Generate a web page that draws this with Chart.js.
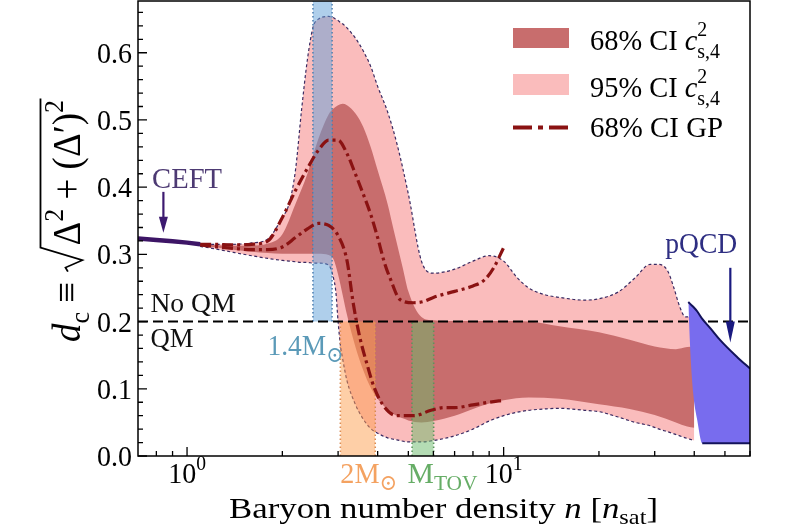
<!DOCTYPE html>
<html>
<head>
<meta charset="utf-8">
<title>d_c vs baryon number density</title>
<script src="https://cdn.jsdelivr.net/npm/chart.js@4.4.1/dist/chart.umd.min.js"></script>
<style>
  html, body { margin: 0; padding: 0; background: #fff; }
  #wrap { width: 800px; height: 530px; }
</style>
</head>
<body>
<div id="wrap"><canvas id="c" width="800" height="530"></canvas></div>
<script>
// --------------------------------------------------
//  values (n in units of n_sat)
// --------------------------------------------------

// 95% CI c2_s,4 band
const n95  = [1.1, 1.2, 1.4, 1.6, 1.8, 2.0, 2.1, 2.2, 2.3, 2.4, 2.5, 2.6, 2.8, 2.9, 2.95, 3.0, 3.05, 3.1, 3.2, 3.4,
              3.6, 3.8, 4.0, 4.3, 4.6, 5.0, 5.5, 6, 7, 8, 9, 10, 11, 12, 13.5, 15, 18, 20, 23, 26,
              29, 31, 33, 34.5, 36, 37.5, 40];
const up95 = [.316, .315, .315, .317, .323, .355, .375, .425, .515, .59, .638, .65, .654, .652, .65, .648, .645, .643, .637, .622,
              .603, .58, .55, .512, .465, .39, .29, .272, .278, .29, .298, .29, .266, .25, .24, .236, .232, .234, .244, .265,
              .285, .285, .275, .25, .222, .207, .207];
const lo95 = [.312, .309, .303, .298, .294, .291, .29, .289, .288, .288, .287, .287, .284, .265, .245, .2, .165, .145, .112, .077,
              .055, .041, .034, .027, .024, .021, .021, .023, .03, .04, .052, .06, .065, .068, .07, .071, .068, .066, .058, .05,
              .045, .04, .036, .033, .03, .027, .023];

// 68% CI c2_s,4 band
const n68  = [1.1, 1.2, 1.4, 1.6, 1.8, 2.0, 2.2, 2.4, 2.6, 2.8, 2.9, 3.0, 3.1, 3.2, 3.4, 3.6, 3.8, 4.0, 4.3, 4.5,
              4.8, 5.0, 5.5, 6, 7, 8, 9, 10, 12, 15, 20, 25, 30, 35, 38, 40];
const up68 = [.315, .314, .313, .313, .316, .33, .375, .42, .472, .508, .517, .522, .524, .522, .51, .49, .46, .425, .375, .335,
              .28, .245, .207, .202, .201, .201, .201, .201, .2, .193, .184, .173, .163, .159, .162, .163];
const lo68 = [.313, .311, .307, .304, .302, .301, .301, .301, .301, .299, .293, .27, .24, .21, .163, .128, .102, .085, .069, .062,
              .056, .053, .05, .052, .06, .07, .078, .083, .087, .085, .077, .07, .061, .05, .044, .042];

// 68% CI GP (upper / lower)
const nGPup = [1.1, 1.2, 1.4, 1.6, 1.8, 2.0, 2.2, 2.4, 2.6, 2.8, 3.0, 3.2, 3.4, 3.6, 3.8, 4.0, 4.2, 4.4, 4.7, 5.2,
               5.6, 6, 7, 8, 8.7, 9.3, 10];
const gpUp  = [.315, .315, .314, .315, .32, .355, .395, .428, .455, .47, .47, .45, .42, .39, .36, .325, .288, .262, .233, .228,
               .23, .236, .245, .253, .262, .28, .31];
const nGPlo = [1.1, 1.2, 1.4, 1.6, 1.8, 2.0, 2.2, 2.4, 2.6, 2.8, 3.0, 3.2, 3.35, 3.5, 3.7, 3.9, 4.2, 4.6, 5.2, 5.9,
               6.5, 7, 8, 9, 10];
const gpLo  = [.314, .312, .309, .307, .307, .311, .325, .338, .346, .343, .328, .291, .227, .18, .137, .102, .073, .06, .06, .068,
               .072, .072, .076, .08, .083];

// CEFT and pQCD limits
const nCEFT  = [0.7, 0.8, 0.9, 1.0, 1.1];
const dCEFT  = [.3235, .3215, .3195, .3175, .315];
const nPQ    = [38.3, 38.9, 39.7, 40.9, 42.4, 45, 48.4, 54.7, 60];
const dPQup  = [.229, .226, .222, .215, .204, .19, .172, .147, .13];
const dPQlo  = [.229, .153, .093, .053, .019, .019, .019, .019, .019];
const nPQbot = [42.4, 60];
const dPQbot = [.019, .019];

// central densities of 1.4 Msun, 2 Msun and M_TOV stars
const band14  = [2.50, 2.87];
const band2M  = [3.05, 3.93];
const bandTOV = [5.14, 6.01];
const dSplit  = 0.2;   // QM / No QM line

// axes
const X_MIN = 0.7, X_MAX = 60, Y_MIN = 0, Y_MAX = 0.677;
const xMajor = [1, 10];
const xMajorExp = ['0', '1'];
const xMinor = [0.8, 0.9, 2, 3, 4, 5, 6, 7, 8, 9, 20, 30, 40, 50, 60];
const yMajor = [0, 0.1, 0.2, 0.3, 0.4, 0.5, 0.6];
const yLabels = ['0.0', '0.1', '0.2', '0.3', '0.4', '0.5', '0.6'];

/* ----------  colours  ---------- */
const C95 = '#fabcbc', C68 = '#c86d6d', CGP = '#8a1212', CEDGE = '#3a2a62', CQCD = '#13135a';

const SERIF = '"Liberation Serif", "DejaVu Serif", "DejaVu Sans", serif';

const pts = (xs, ys) => xs.map((v, i) => ({ x: v, y: ys[i] }));
const NONE = 'rgba(0,0,0,0)';

// shaded vertical band: top edge filled down to y0, plus two dotted sides
function bandSets(b, y0, y1, fillCol, edgeCol) {
  const side = xv => ({
    data: pts([xv, xv], [y0, y1]), fill: false, borderColor: edgeCol,
    borderWidth: 1.6, borderDash: [1.5, 2.5], order: 8
  });
  return [
    { data: pts(b, [y1, y1]), fill: { value: y0 }, backgroundColor: fillCol, borderColor: NONE, borderWidth: 1, order: 8 },
    side(b[0]), side(b[1])
  ];
}

const datasets = [
  { data: pts(n95, up95), fill: 1, backgroundColor: C95, borderColor: CEDGE, borderWidth: 1.2,
    borderDash: [3, 2.5], cubicInterpolationMode: 'monotone', order: 11 },
  { data: pts(n95, lo95), fill: false, borderColor: CEDGE, borderWidth: 1.2,
    borderDash: [3, 2.5], cubicInterpolationMode: 'monotone', order: 10.5 },
  { data: pts(n68, up68), fill: 3, backgroundColor: C68, borderColor: NONE, borderWidth: 1,
    cubicInterpolationMode: 'monotone', order: 9 },
  { data: pts(n68, lo68), fill: false, borderColor: NONE, borderWidth: 1,
    cubicInterpolationMode: 'monotone', order: 9 },
  // pQCD region (upper edge filled down to lower edge)
  { data: pts(nPQ, dPQup), fill: 5, backgroundColor: '#786cee', borderColor: CQCD,
    borderWidth: 2, cubicInterpolationMode: 'monotone', order: 5 },
  { data: pts(nPQ, dPQlo), fill: false, borderColor: NONE, borderWidth: 1,
    cubicInterpolationMode: 'monotone', order: 5 },
  { data: pts(nPQbot, dPQbot), fill: false, borderColor: CQCD, borderWidth: 2, order: 4.5 },
  ...bandSets(band14, dSplit, Y_MAX, 'rgba(95,160,215,0.5)', '#4c78a6'),
  ...bandSets(band2M, Y_MIN, dSplit, 'rgba(253,160,80,0.5)', '#d58a55'),
  ...bandSets(bandTOV, Y_MIN, dSplit, 'rgba(105,185,105,0.5)', '#5a8d5a'),
  { data: pts([X_MIN, X_MAX], [dSplit, dSplit]), borderColor: '#000', borderWidth: 2,
    borderDash: [10, 5], fill: false, order: 7 },
  { data: pts(nGPup, gpUp), borderColor: CGP, borderWidth: 3.2, borderDash: [11, 4, 3, 4],
    cubicInterpolationMode: 'monotone', fill: false, order: 6 },
  { data: pts(nGPlo, gpLo), borderColor: CGP, borderWidth: 3.2, borderDash: [11, 4, 3, 4],
    cubicInterpolationMode: 'monotone', fill: false, order: 6 },
  { data: pts(nCEFT, dCEFT), borderColor: '#3d1566', borderWidth: 4.5, fill: false,
    borderCapStyle: 'butt', order: 4 }
];

/* ----------  rich text (sub / superscripts, radical)  ---------- */
function richText(ctx, segs, o) {
  const S = o.size;
  const fontOf = sg => (sg.it ? 'italic ' : '') + (S * (sg.s || 1)).toFixed(1) + 'px ' + SERIF;
  let w = 0, prev = null;
  const laid = [];
  for (const sg of segs) {
    let sw;
    if (sg.rad) sw = sg.rad * S;
    else { ctx.font = fontOf(sg); sw = ctx.measureText(sg.t).width; }
    let x = w;
    if (sg.stack && prev) { x = prev.x; w = Math.max(w, x + sw); }
    else w += sw;
    prev = { sg, x, w: sw };
    laid.push(prev);
  }
  const sx = o.fitW ? o.fitW / w : 1;
  const x0 = o.align === 'center' ? -w / 2 : o.align === 'right' ? -w : 0;
  ctx.save();
  ctx.translate(o.x, o.y);
  if (o.rot) ctx.rotate(o.rot);
  ctx.scale(sx, o.sy || 1);
  ctx.fillStyle = ctx.strokeStyle = o.color || '#000';
  ctx.textAlign = 'left';
  ctx.textBaseline = 'alphabetic';
  ctx.setLineDash([]);
  for (const p of laid) {
    if (p.sg.rad) {
      const a = x0 + p.x;
      ctx.lineWidth = 0.045 * S;
      ctx.beginPath();
      ctx.moveTo(a + 0.03 * S, -0.3 * S);
      ctx.lineTo(a + 0.14 * S, -0.36 * S);
      ctx.lineTo(a + 0.34 * S, 0.06 * S);
      ctx.lineTo(a + 0.68 * S, -0.98 * S);
      ctx.lineTo(x0 + w + 0.04 * S, -0.98 * S);
      ctx.stroke();
    } else {
      ctx.font = fontOf(p.sg);
      ctx.fillText(p.sg.t, x0 + p.x, (p.sg.dy || 0) * S);
    }
  }
  ctx.restore();
}

function arrowDown(ctx, x, y0, y1, color, lw, hw, hl) {
  ctx.save();
  ctx.setLineDash([]);
  ctx.strokeStyle = ctx.fillStyle = color;
  ctx.lineWidth = lw;
  ctx.beginPath(); ctx.moveTo(x, y0); ctx.lineTo(x, y1 - hl + 2); ctx.stroke();
  ctx.beginPath(); ctx.moveTo(x - hw / 2, y1 - hl); ctx.lineTo(x + hw / 2, y1 - hl); ctx.lineTo(x, y1);
  ctx.closePath(); ctx.fill();
  ctx.restore();
}

/* ----------  annotations  ---------- */
const notes = [
  { segs: [{ t: 'CEFT' }], n: 1.0, d: 0.399, align: 'center', fitW: 70, color: '#4d3a73' },
  { segs: [{ t: 'No QM' }], n: 0.766, d: 0.214, align: 'left', fitW: 85, size: 26, color: '#111' },
  { segs: [{ t: 'QM' }], n: 0.766, d: 0.162, align: 'left', fitW: 43, size: 26, color: '#111' },
  { segs: [{ t: '1.4M' }, { t: '\u2299', s: 0.75, dy: 0.22 }], n: 3.12, d: 0.150, align: 'right', fitW: 76, color: '#5b9ab8' },
  { segs: [{ t: '2M' }, { t: '\u2299', s: 0.75, dy: 0.22 }], n: 3.05, d: -0.0402, align: 'left', fitW: 57, color: '#f4a261' },
  { segs: [{ t: 'M' }, { t: 'TOV', s: 0.72, dy: 0.25 }], n: 4.97, d: -0.0402, align: 'left', fitW: 70, color: '#66ad66' },
  { segs: [{ t: 'pQCD' }], n: 54.7, d: 0.302, align: 'right', fitW: 72, color: '#2e2e82' }
];

const legendRows = [
  { y: 50, fitW: 130, segs: [{ t: '68% CI ' }, { t: 'c', it: 1 }, { t: '2', s: 0.7, dy: -0.45 }, { t: 's,4', s: 0.7, dy: 0.25, stack: 1 }] },
  { y: 97, fitW: 130, segs: [{ t: '95% CI ' }, { t: 'c', it: 1 }, { t: '2', s: 0.7, dy: -0.45 }, { t: 's,4', s: 0.7, dy: 0.25, stack: 1 }] },
  { y: 137, fitW: 133, segs: [{ t: '68% CI GP' }] }
];

const decor = {
  id: 'decor',
  afterDatasetsDraw(chart) {
    const { ctx, chartArea: a, scales: { x, y } } = chart;
    const px = v => x.getPixelForValue(v), py = v => y.getPixelForValue(v);
    ctx.save();
    ctx.setLineDash([]);

    // ticks (inward) + frame
    ctx.strokeStyle = '#000';
    ctx.lineWidth = 1.3;
    ctx.beginPath();
    xMajor.forEach(v => { ctx.moveTo(px(v), a.bottom); ctx.lineTo(px(v), a.bottom - 9); });
    xMinor.forEach(v => { ctx.moveTo(px(v), a.bottom); ctx.lineTo(px(v), a.bottom - 5); });
    yMajor.forEach(v => { ctx.moveTo(a.left, py(v)); ctx.lineTo(a.left + 9, py(v)); });
    yMajor.forEach(v => {
      for (let k = 1; k < 5; k++) {
        const t = v + k * 0.02;
        if (t < Y_MAX) { ctx.moveTo(a.left, py(t)); ctx.lineTo(a.left + 5, py(t)); }
      }
    });
    ctx.stroke();
    ctx.lineWidth = 1.5;
    ctx.strokeRect(a.left, a.top, a.right - a.left, a.bottom - a.top);

    // tick labels
    yMajor.forEach((v, i) => richText(ctx, [{ t: yLabels[i] }],
      { x: a.left - 6, y: py(v) + 10, size: 28, sy: 1.06, align: 'right' }));
    xMajor.forEach((v, i) => richText(ctx, [{ t: '10' }, { t: xMajorExp[i], s: 0.7, dy: -0.45 }],
      { x: px(v), y: a.bottom + 27, size: 28, sy: 1.06, align: 'center' }));

    // axis titles
    richText(ctx, [{ t: 'Baryon number density ' }, { t: 'n', it: 1 }, { t: ' [' }, { t: 'n', it: 1 },
      { t: 'sat', s: 0.7, dy: 0.2 }, { t: ']' }],
      { x: 229, y: a.bottom + 62, size: 28, sy: 1.08, fitW: 429 });
    richText(ctx, [{ t: 'd', it: 1 }, { t: 'c', s: 0.7, dy: 0.22 }, { t: ' \u2261 ' }, { rad: 0.74 },
      { t: '\u0394' }, { t: '2', s: 0.7, dy: -0.42 }, { t: ' + (\u0394\u2032)' }, { t: '2', s: 0.7, dy: -0.42 }],
      { x: 80, y: 342, size: 36, sy: 1.12, fitW: 242, rot: -Math.PI / 2 });

    // text notes and arrows
    notes.forEach(o => richText(ctx, o.segs,
      { x: px(o.n), y: py(o.d), size: o.size || 28, sy: 1.06, align: o.align, fitW: o.fitW, color: o.color }));
    arrowDown(ctx, px(0.842), py(0.393), py(0.332), '#3d1a70', 2.2, 9, 16);
    arrowDown(ctx, px(52.0), py(0.28), py(0.169), '#1a1a80', 2.2, 9, 21);

    // legend
    ctx.fillStyle = C68; ctx.fillRect(513, 28, 56, 20);
    ctx.fillStyle = C95; ctx.fillRect(513, 74, 56, 21);
    ctx.strokeStyle = CGP; ctx.lineWidth = 4; ctx.setLineDash([19, 6, 5, 6]);
    ctx.beginPath(); ctx.moveTo(513, 127.5); ctx.lineTo(569, 127.5); ctx.stroke();
    ctx.setLineDash([]);
    legendRows.forEach(r => richText(ctx, r.segs, { x: 590, y: r.y, size: 28, sy: 1.08, fitW: r.fitW }));

    ctx.restore();
  }
};

new Chart(document.getElementById('c'), {
  type: 'line',
  data: { datasets },
  options: {
    responsive: false,
    animation: false,
    events: [],
    layout: { padding: { left: 138, top: 1, right: 50, bottom: 74 } },
    elements: { point: { radius: 0, hoverRadius: 0 }, line: { borderCapStyle: 'butt' } },
    scales: {
      x: { type: 'logarithmic', min: X_MIN, max: X_MAX, display: false },
      y: { type: 'linear', min: Y_MIN, max: Y_MAX, display: false }
    },
    plugins: { legend: { display: false }, tooltip: { enabled: false } }
  },
  plugins: [decor]
});
</script>
</body>
</html>
